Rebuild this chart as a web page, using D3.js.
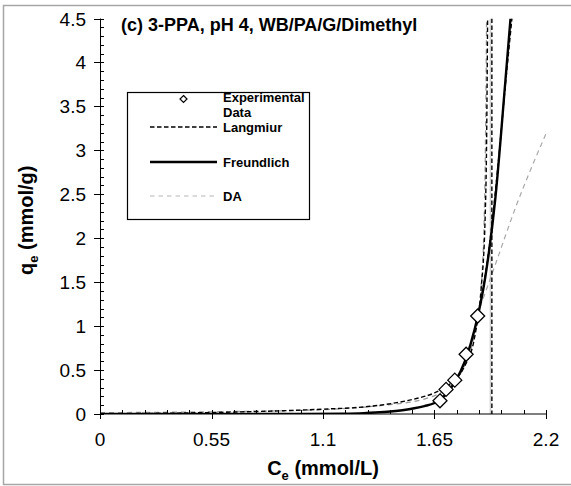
<!DOCTYPE html>
<html>
<head>
<meta charset="utf-8">
<script src="https://cdn.jsdelivr.net/npm/d3@7"></script>
<style>
  body{ margin:0; background:#fff; }
  text{ font-family: Arial, "Liberation Sans", sans-serif; fill:#000; }
</style>
</head>
<body>
<div id="chart"></div>
<script>

// experimental points
const expC = [1.677, 1.707, 1.75, 1.806, 1.863];
const expQ = [0.15, 0.28, 0.385, 0.68, 1.115];

// Langmuir fit (black dashed)
const langC = [0, 0.2, 0.55, 0.8, 1.1, 1.3, 1.44, 1.55, 1.65, 1.7, 1.75, 1.8, 1.85, 1.88, 1.9, 1.907, 1.912];
const langQ = [0, 0.005, 0.017, 0.03, 0.055, 0.08, 0.12, 0.17, 0.24, 0.3, 0.39, 0.55, 0.9, 1.42, 2.25, 3.1, 4.5];
// Langmuir jump at the asymptote
const langJumpC = [1.933, 1.933];
const langJumpQ = [4.5, 0];
// dashed branch running beside Freundlich
const langUpC = [1.88, 1.92, 1.96, 2.0, 2.032];
const langUpQ = [1.3, 1.9, 2.75, 3.75, 4.5];

// Freundlich fit (black solid)
const freuC = [0, 1.0, 1.2, 1.3, 1.4, 1.5, 1.55, 1.6, 1.65, 1.7, 1.75, 1.8, 1.85, 1.9, 1.95, 2.0, 2.025];
const freuQ = [0, 0, 0.004, 0.01, 0.022, 0.045, 0.065, 0.09, 0.125, 0.21, 0.36, 0.6, 0.98, 1.55, 2.45, 3.8, 4.5];

// DA fit (grey dashed)
const daC = [0, 0.55, 1.1, 1.4, 1.6, 1.7, 1.75, 1.8, 1.85, 1.88, 1.895, 1.902, 1.907];
const daQ = [0.015, 0.025, 0.05, 0.1, 0.17, 0.27, 0.37, 0.56, 0.95, 1.45, 2.2, 3.2, 4.5];
const daBranchC = [1.86, 1.95, 2.05, 2.2];
const daBranchQ = [1.12, 1.7, 2.35, 3.19];
const daJumpC = [1.926, 1.926];
const daJumpQ = [4.5, 0];

// axes
const xMajor = [0, 0.55, 1.1, 1.65, 2.2];
const xMinor = d3.range(0, 21).map(i => i * 0.11);
const yMajor = [0, 0.5, 1, 1.5, 2, 2.5, 3, 3.5, 4, 4.5];
const yMinor = d3.range(0, 46).map(i => i * 0.1);

const legendNames = ['Experimental', 'Langmiur', 'Freundlich', 'DA'];

const W = 571, H = 486;
const pLeft = 100, pRight = 546, pTop = 18.5, pBottom = 414;

const svg = d3.select('#chart').append('svg')
    .attr('width', W)
    .attr('height', H);

svg.append('rect').attr('width', W).attr('height', H).attr('fill', '#fff');

// outer chart border (right side is cut off)
svg.append('path')
    .attr('d', `M${W + 2},5.5 H3.5 V484.5 H${W + 2}`)
    .attr('fill', 'none')
    .attr('stroke', '#a6a6a6')
    .attr('stroke-width', 1.5);

const x = d3.scaleLinear().domain([0, 2.2]).range([pLeft, pRight]);
const y = d3.scaleLinear().domain([0, 4.5]).range([pBottom, pTop]);

svg.append('clipPath').attr('id', 'plot')
    .append('rect')
    .attr('x', pLeft).attr('y', pTop)
    .attr('width', pRight - pLeft).attr('height', pBottom - pTop);

const zip = (a, b) => a.map((v, i) => [v, b[i]]);

const smooth = d3.line().x(d => x(d[0])).y(d => y(d[1])).curve(d3.curveMonotoneX);
const straight = d3.line().x(d => x(d[0])).y(d => y(d[1]));

const curves = svg.append('g').attr('clip-path', 'url(#plot)');

function drawCurve(gen, data, stroke, width, dash){
    curves.append('path')
        .attr('d', gen(data))
        .attr('fill', 'none')
        .attr('stroke', stroke)
        .attr('stroke-width', width)
        .attr('stroke-dasharray', dash);
}

// DA first (behind)
drawCurve(straight, zip(daJumpC, daJumpQ), '#cfcfcf', 1.6, null);
drawCurve(smooth, zip(daC, daQ), '#9a9a9a', 1.3, '5,4');
drawCurve(smooth, zip(daBranchC, daBranchQ), '#a8a8a8', 1.2, '5,4');

drawCurve(smooth, zip(freuC, freuQ), '#000', 2.4, null);

drawCurve(smooth, zip(langC, langQ), '#000', 1.4, '4.5,2.5');
drawCurve(straight, zip(langJumpC, langJumpQ), '#000', 1.4, '4.5,2.5');
drawCurve(smooth, zip(langUpC, langUpQ), '#000', 1.4, '4.5,2.5');

// diamonds
const diamond = (cx, cy, r) => `M${cx},${cy - r} L${cx + r},${cy} L${cx},${cy + r} L${cx - r},${cy} Z`;

svg.append('g').selectAll('path')
    .data(zip(expC, expQ))
    .join('path')
    .attr('d', d => diamond(x(d[0]), y(d[1]), 7))
    .attr('fill', '#fff')
    .attr('stroke', '#000')
    .attr('stroke-width', 1.3);

// x axis
const ax = svg.append('g');
ax.append('line')
    .attr('x1', pLeft).attr('x2', pRight)
    .attr('y1', pBottom).attr('y2', pBottom)
    .attr('stroke', '#000');
ax.selectAll('.mn').data(xMinor).join('line')
    .attr('x1', d => Math.round(x(d)) + 0.5).attr('x2', d => Math.round(x(d)) + 0.5)
    .attr('y1', pBottom).attr('y2', pBottom - 4)
    .attr('stroke', '#000');
ax.selectAll('.mj').data(xMajor).join('line')
    .attr('x1', d => Math.round(x(d)) + 0.5).attr('x2', d => Math.round(x(d)) + 0.5)
    .attr('y1', pBottom).attr('y2', pBottom + 5)
    .attr('stroke', '#000');
ax.selectAll('text').data(xMajor).join('text')
    .attr('x', d => x(d))
    .attr('y', 446)
    .attr('text-anchor', 'middle')
    .attr('font-size', 19)
    .text(d => d3.format('')(d));

// y axis
const ay = svg.append('g');
ay.append('line')
    .attr('x1', pLeft + 0.5).attr('x2', pLeft + 0.5)
    .attr('y1', pTop).attr('y2', pBottom)
    .attr('stroke', '#000');
ay.selectAll('.mn').data(yMinor).join('line')
    .attr('x1', pLeft).attr('x2', pLeft + 4)
    .attr('y1', d => Math.round(y(d)) + 0.5).attr('y2', d => Math.round(y(d)) + 0.5)
    .attr('stroke', '#000');
ay.selectAll('.mj').data(yMajor).join('line')
    .attr('x1', pLeft - 6).attr('x2', pLeft)
    .attr('y1', d => Math.round(y(d)) + 0.5).attr('y2', d => Math.round(y(d)) + 0.5)
    .attr('stroke', '#000');
ay.selectAll('text').data(yMajor).join('text')
    .attr('x', pLeft - 14)
    .attr('y', d => y(d) + 7)
    .attr('text-anchor', 'end')
    .attr('font-size', 19)
    .text(d => d);

// axis titles
const xt = svg.append('text')
    .attr('x', (pLeft + pRight) / 2)
    .attr('y', 475)
    .attr('text-anchor', 'middle')
    .attr('font-size', 20)
    .attr('font-weight', 'bold');
xt.append('tspan').text('C');
xt.append('tspan').attr('font-size', 13).attr('dy', 5).text('e');
xt.append('tspan').attr('dy', -5).text(' (mmol/L)');

const yt = svg.append('text')
    .attr('transform', `translate(33,${(pTop + pBottom) / 2 + 4}) rotate(-90)`)
    .attr('text-anchor', 'middle')
    .attr('font-size', 20)
    .attr('font-weight', 'bold');
yt.append('tspan').text('q');
yt.append('tspan').attr('font-size', 13).attr('dy', 5).text('e');
yt.append('tspan').attr('dy', -5).text(' (mmol/g)');

// panel title
svg.append('text')
    .attr('x', 121)
    .attr('y', 31)
    .attr('font-size', 18)
    .attr('font-weight', 'bold')
    .text('(c) 3-PPA, pH 4, WB/PA/G/Dimethyl');

// legend
const lg = svg.append('g');
lg.append('rect')
    .attr('x', 127.5).attr('y', 92.5)
    .attr('width', 182).attr('height', 127)
    .attr('fill', '#fff')
    .attr('stroke', '#000')
    .attr('stroke-width', 1.2);

const lx1 = 150, lx2 = 217, tx = 223;
lg.append('path')
    .attr('d', diamond((lx1 + lx2) / 2, 99, 3.5))
    .attr('fill', '#fff').attr('stroke', '#000').attr('stroke-width', 1.2);

const legendRows = [
    { y: 127, stroke: '#000', width: 1.4, dash: '4.5,2.5' },
    { y: 162, stroke: '#000', width: 2.4, dash: null },
    { y: 196, stroke: '#b5b5b5', width: 1.2, dash: '4.5,4' }
];
legendRows.forEach((r, i) => {
    lg.append('line')
        .attr('x1', lx1).attr('x2', lx2)
        .attr('y1', r.y).attr('y2', r.y)
        .attr('stroke', r.stroke)
        .attr('stroke-width', r.width)
        .attr('stroke-dasharray', r.dash);
    lg.append('text')
        .attr('x', tx).attr('y', r.y + 5)
        .attr('font-size', 13).attr('font-weight', 'bold')
        .text(legendNames[i + 1]);
});
lg.append('text')
    .attr('x', tx).attr('y', 102)
    .attr('font-size', 13).attr('font-weight', 'bold')
    .text(legendNames[0]);
lg.append('text')
    .attr('x', tx).attr('y', 116.5)
    .attr('font-size', 13).attr('font-weight', 'bold')
    .text('Data');

</script>
</body>
</html>
